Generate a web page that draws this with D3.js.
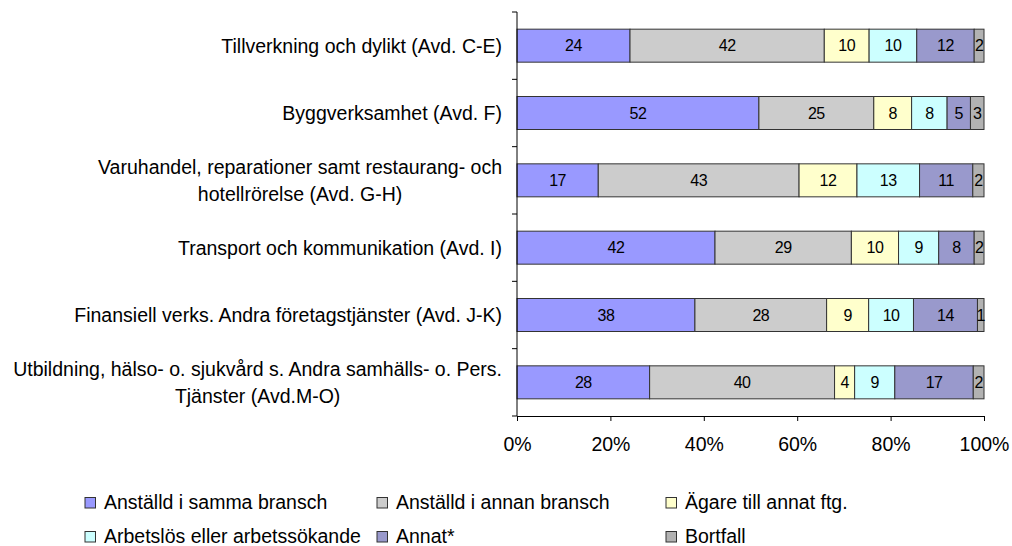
<!DOCTYPE html>
<html lang="sv">
<head>
<meta charset="UTF-8">
<title>Bransch</title>
<script src="https://d3js.org/d3.v7.min.js"></script>
<style>
    body{
        margin: 0;
        background: #fff;
    }
    text{
        font-family: "Liberation Sans", Arial, sans-serif;
        fill: #000;
    }
    .cat text{ font-size: 19.5px; }
    .xaxis text{ font-size: 19.5px; }
    .seg text{ font-size: 16px; letter-spacing: -0.5px; }
    .legend text{ font-size: 19.5px; }
</style>
</head>
<body>
<svg id="chart" width="1012" height="546"></svg>
<script>
const categories = [
    "Tillverkning och dylikt (Avd. C-E)",
    "Byggverksamhet (Avd. F)",
    "Varuhandel, reparationer samt restaurang- och\nhotellrörelse (Avd. G-H)",
    "Transport och kommunikation (Avd. I)",
    "Finansiell verks. Andra företagstjänster (Avd. J-K)",
    "Utbildning, hälso- o. sjukvård s. Andra samhälls- o. Pers.\nTjänster (Avd.M-O)"
]
const seriesNames = [
    "Anställd i samma bransch",
    "Anställd i annan bransch",
    "Ägare till annat ftg.",
    "Arbetslös eller arbetssökande",
    "Annat*",
    "Bortfall"
]
const colors = ["#9999ff", "#cccccc", "#ffffcc", "#ccffff", "#9999cc", "#b2b2b2"]

const samma     = [24.2, 51.8, 17.4, 42.4, 38.1, 28.4]
const annan     = [41.6, 24.6, 43.0, 29.2, 28.2, 39.6]
const agare     = [9.6, 8.1, 12.4, 10.1, 9.0, 4.3]
const arbetslos = [10.2, 7.6, 13.4, 8.6, 9.6, 8.6]
const annat     = [12.3, 5.0, 11.4, 7.6, 13.7, 16.8]
const bortfall  = [2.1, 2.9, 2.4, 2.1, 1.4, 2.3]
const xTicks = [0, 0.2, 0.4, 0.6, 0.8, 1]

const seriesValues = [samma, annan, agare, arbetslos, annat, bortfall]
const rows = categories.map((c, i) => {
    const r = {cat: c}
    seriesNames.forEach((s, j) => r[s] = seriesValues[j][i])
    return r
})

const mLeft = 517, mRight = 984, mTop = 12, mBottom = 416
const svg = d3.select("#chart")

const x = d3.scaleLinear().domain([0, 1]).range([mLeft, mRight])
const y = d3.scaleBand().domain(categories).range([mTop, mBottom])
    .paddingInner(0.51).paddingOuter(0.255)

const stack = d3.stack().keys(seriesNames).offset(d3.stackOffsetExpand)
const stacked = stack(rows)

// bars
const layer = svg.append("g").selectAll("g")
    .data(stacked)
    .join("g")
    .attr("class", "seg")
    .attr("fill", (d, i) => colors[i])

layer.selectAll("rect")
    .data(d => d.map(p => ({p, key: d.key})))
    .join("rect")
    .attr("x", d => x(d.p[0]))
    .attr("y", d => y(d.p.data.cat))
    .attr("width", d => x(d.p[1]) - x(d.p[0]))
    .attr("height", y.bandwidth())
    .attr("stroke", "#333")
    .attr("stroke-width", 1)

layer.selectAll("text")
    .data(d => d.map(p => ({p, key: d.key})))
    .join("text")
    .attr("x", d => (x(d.p[0]) + x(d.p[1])) / 2)
    .attr("y", d => y(d.p.data.cat) + y.bandwidth() / 2)
    .attr("dy", "0.36em")
    .attr("text-anchor", "middle")
    .style("fill", "#000")
    .text(d => Math.round(d.p.data[d.key]))

// y axis with ticks between categories
const step = y.step()
const yAxis = svg.append("g")
yAxis.append("line")
    .attr("x1", mLeft).attr("x2", mLeft)
    .attr("y1", mTop).attr("y2", mBottom)
    .attr("stroke", "#000")
const bounds = categories.map(c => y(c) - step * y.paddingInner() / 2).concat([mBottom])
yAxis.selectAll(".tk")
    .data(bounds)
    .join("line")
    .attr("x1", mLeft - 5).attr("x2", mLeft)
    .attr("y1", d => d).attr("y2", d => d)
    .attr("stroke", "#000")

// category labels
const cat = svg.append("g").attr("class", "cat")
categories.forEach(c => {
    const lines = c.split("\n")
    const cy = y(c) + y.bandwidth() / 2
    const g = cat.append("g")
    const ts = lines.map((l, k) => g.append("text")
        .attr("y", cy + (k - (lines.length - 1) / 2) * 26.5)
        .attr("dy", "0.36em")
        .attr("text-anchor", "middle")
        .text(l))
    const w = d3.max(ts, t => t.node().getComputedTextLength())
    ts.forEach(t => t.attr("x", 502 - w / 2))
})

// x axis
const xAxis = svg.append("g")
    .attr("class", "xaxis")
    .attr("transform", `translate(0,${mBottom})`)
    .call(d3.axisBottom(x).tickValues(xTicks).tickFormat(d3.format(".0%")).tickSize(5).tickSizeOuter(0))
xAxis.attr("font-size", null).attr("font-family", null)
xAxis.select(".domain").attr("stroke", "#000")
xAxis.selectAll(".tick line").attr("stroke", "#000")
xAxis.selectAll(".tick text").attr("y", 35).attr("dy", null)

// legend
const legCols = [104, 396, 685]
const legRows = [509, 543]
const legend = svg.append("g").attr("class", "legend")
seriesNames.forEach((s, i) => {
    const lx = legCols[i % 3], ly = legRows[Math.floor(i / 3)]
    legend.append("rect")
        .attr("x", lx - 19).attr("y", ly - 11.5)
        .attr("width", 10.5).attr("height", 10.5)
        .attr("fill", colors[i])
        .attr("stroke", "#333")
    legend.append("text")
        .attr("x", lx).attr("y", ly)
        .text(s)
})
</script>
</body>
</html>
